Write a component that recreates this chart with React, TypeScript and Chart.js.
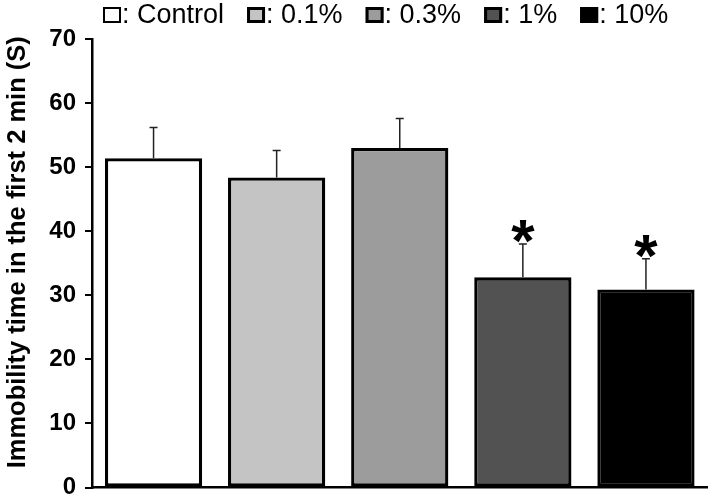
import React, { useEffect, useRef } from "react";
import { Chart, registerables } from "chart.js";

Chart.register(...registerables);

const categories = ["Control", "0.1%", "0.3%", "1%", "10%"];
const legendLabels = [": Control", ": 0.1%", ": 0.3%", ": 1%", ": 10%"];
const means = [51.4, 48.4, 53.0, 32.8, 30.9];
const errors = [4.8, 4.2, 4.6, 5.2, 4.8];
const significant = [false, false, false, true, true];
const barColors = ["#ffffff", "#c4c4c4", "#9c9c9c", "#525252", "#000000"];
const yMin = 0;
const yMax = 70;
const yStep = 10;
const yTitle = "Immobility time in the first 2 min (S)";

const FONT = "'Liberation Sans', Arial, sans-serif";

const overlayPlugin = {
  id: "overlay",
  afterDatasetsDraw(chart: any) {
    const ctx = chart.ctx;
    const y = chart.scales.y;
    const meta = chart.getDatasetMeta(0);
    ctx.save();
    means.forEach((m, i) => {
      const el = meta.data[i];
      const x = el.x;
      const top = y.getPixelForValue(m + errors[i]);
      const base = y.getPixelForValue(m);
      ctx.strokeStyle = "#222";
      ctx.lineWidth = 1.5;
      ctx.beginPath();
      ctx.moveTo(x, base);
      ctx.lineTo(x, top);
      ctx.moveTo(x - 4, top);
      ctx.lineTo(x + 4, top);
      ctx.stroke();
      if (significant[i]) {
        ctx.font = `bold 60px ${FONT}`;
        ctx.fillStyle = "#000";
        ctx.textAlign = "center";
        ctx.textBaseline = "alphabetic";
        const mt = ctx.measureText("*");
        const asc = mt.actualBoundingBoxAscent;
        const desc = mt.actualBoundingBoxDescent;
        const cy = top - 12.5;
        ctx.fillText("*", x, cy - (desc - asc) / 2);
      }
    });
    ctx.restore();
  },
  afterDraw(chart: any) {
    const ctx = chart.ctx;
    const area = chart.chartArea;
    ctx.save();
    // y-axis title
    ctx.save();
    ctx.translate(18, (area.top + area.bottom) / 2 - 11);
    ctx.rotate(-Math.PI / 2);
    ctx.font = `bold 25.5px ${FONT}`;
    ctx.fillStyle = "#000";
    ctx.textAlign = "center";
    ctx.textBaseline = "middle";
    ctx.fillText(yTitle, 0, 0);
    ctx.restore();
    // legend
    ctx.font = `27px ${FONT}`;
    ctx.textBaseline = "middle";
    ctx.textAlign = "left";
    let x = 103;
    const cy = 15;
    const bw = 18;
    const bh = 16;
    legendLabels.forEach((lab, i) => {
      ctx.fillStyle = barColors[i];
      ctx.fillRect(x, cy - bh / 2, bw, bh);
      const lw = i === 0 ? 2 : 3;
      ctx.lineWidth = lw;
      ctx.strokeStyle = "#000";
      ctx.strokeRect(x + lw / 2, cy - bh / 2 + lw / 2, bw - lw, bh - lw);
      ctx.fillStyle = "#000";
      ctx.fillText(lab, x + bw + 1, cy + 1);
      x += bw + 1 + ctx.measureText(lab).width + 23;
    });
    ctx.restore();
  },
};

export default function App() {
  const ref = useRef<HTMLCanvasElement | null>(null);
  useEffect(() => {
    if (!ref.current) return;
    const chart = new Chart(ref.current, {
      type: "bar",
      data: {
        labels: categories,
        datasets: [
          {
            data: means,
            backgroundColor: barColors,
            borderColor: "#000",
            borderWidth: 3.3,
            borderSkipped: false,
            barPercentage: 0.79,
            categoryPercentage: 1,
          },
        ],
      },
      options: {
        responsive: false,
        animation: false,
        devicePixelRatio: 1,
        layout: { padding: { top: 39, bottom: 11.5, left: 0, right: 1.5 } },
        plugins: { legend: { display: false }, tooltip: { enabled: false } },
        scales: {
          x: {
            ticks: { display: false },
            grid: { display: false, drawTicks: false },
            border: { display: true, color: "#000", width: 2.5 },
            afterFit: (s: any) => {
              s.height = 0;
              s.paddingTop = 0;
              s.paddingBottom = 0;
            },
          },
          y: {
            min: yMin,
            max: yMax,
            ticks: {
              stepSize: yStep,
              color: "#000",
              padding: 9,
              font: { family: FONT, size: 24, weight: "bold" },
            },
            grid: {
              display: true,
              drawOnChartArea: false,
              drawTicks: true,
              tickLength: 7,
              color: "#000",
              lineWidth: 2,
            },
            border: { display: true, color: "#000", width: 2.5 },
            afterFit: (s: any) => {
              s.width = 92;
              s.paddingTop = 0;
              s.paddingBottom = 0;
            },
          },
        },
      },
      plugins: [overlayPlugin],
    });
    return () => chart.destroy();
  }, []);
  return (
    <div style={{ position: "fixed", left: 0, top: 0, width: 709, height: 499, background: "#fff" }}>
      <canvas ref={ref} width={709} height={499} style={{ display: "block" }} />
    </div>
  );
}
